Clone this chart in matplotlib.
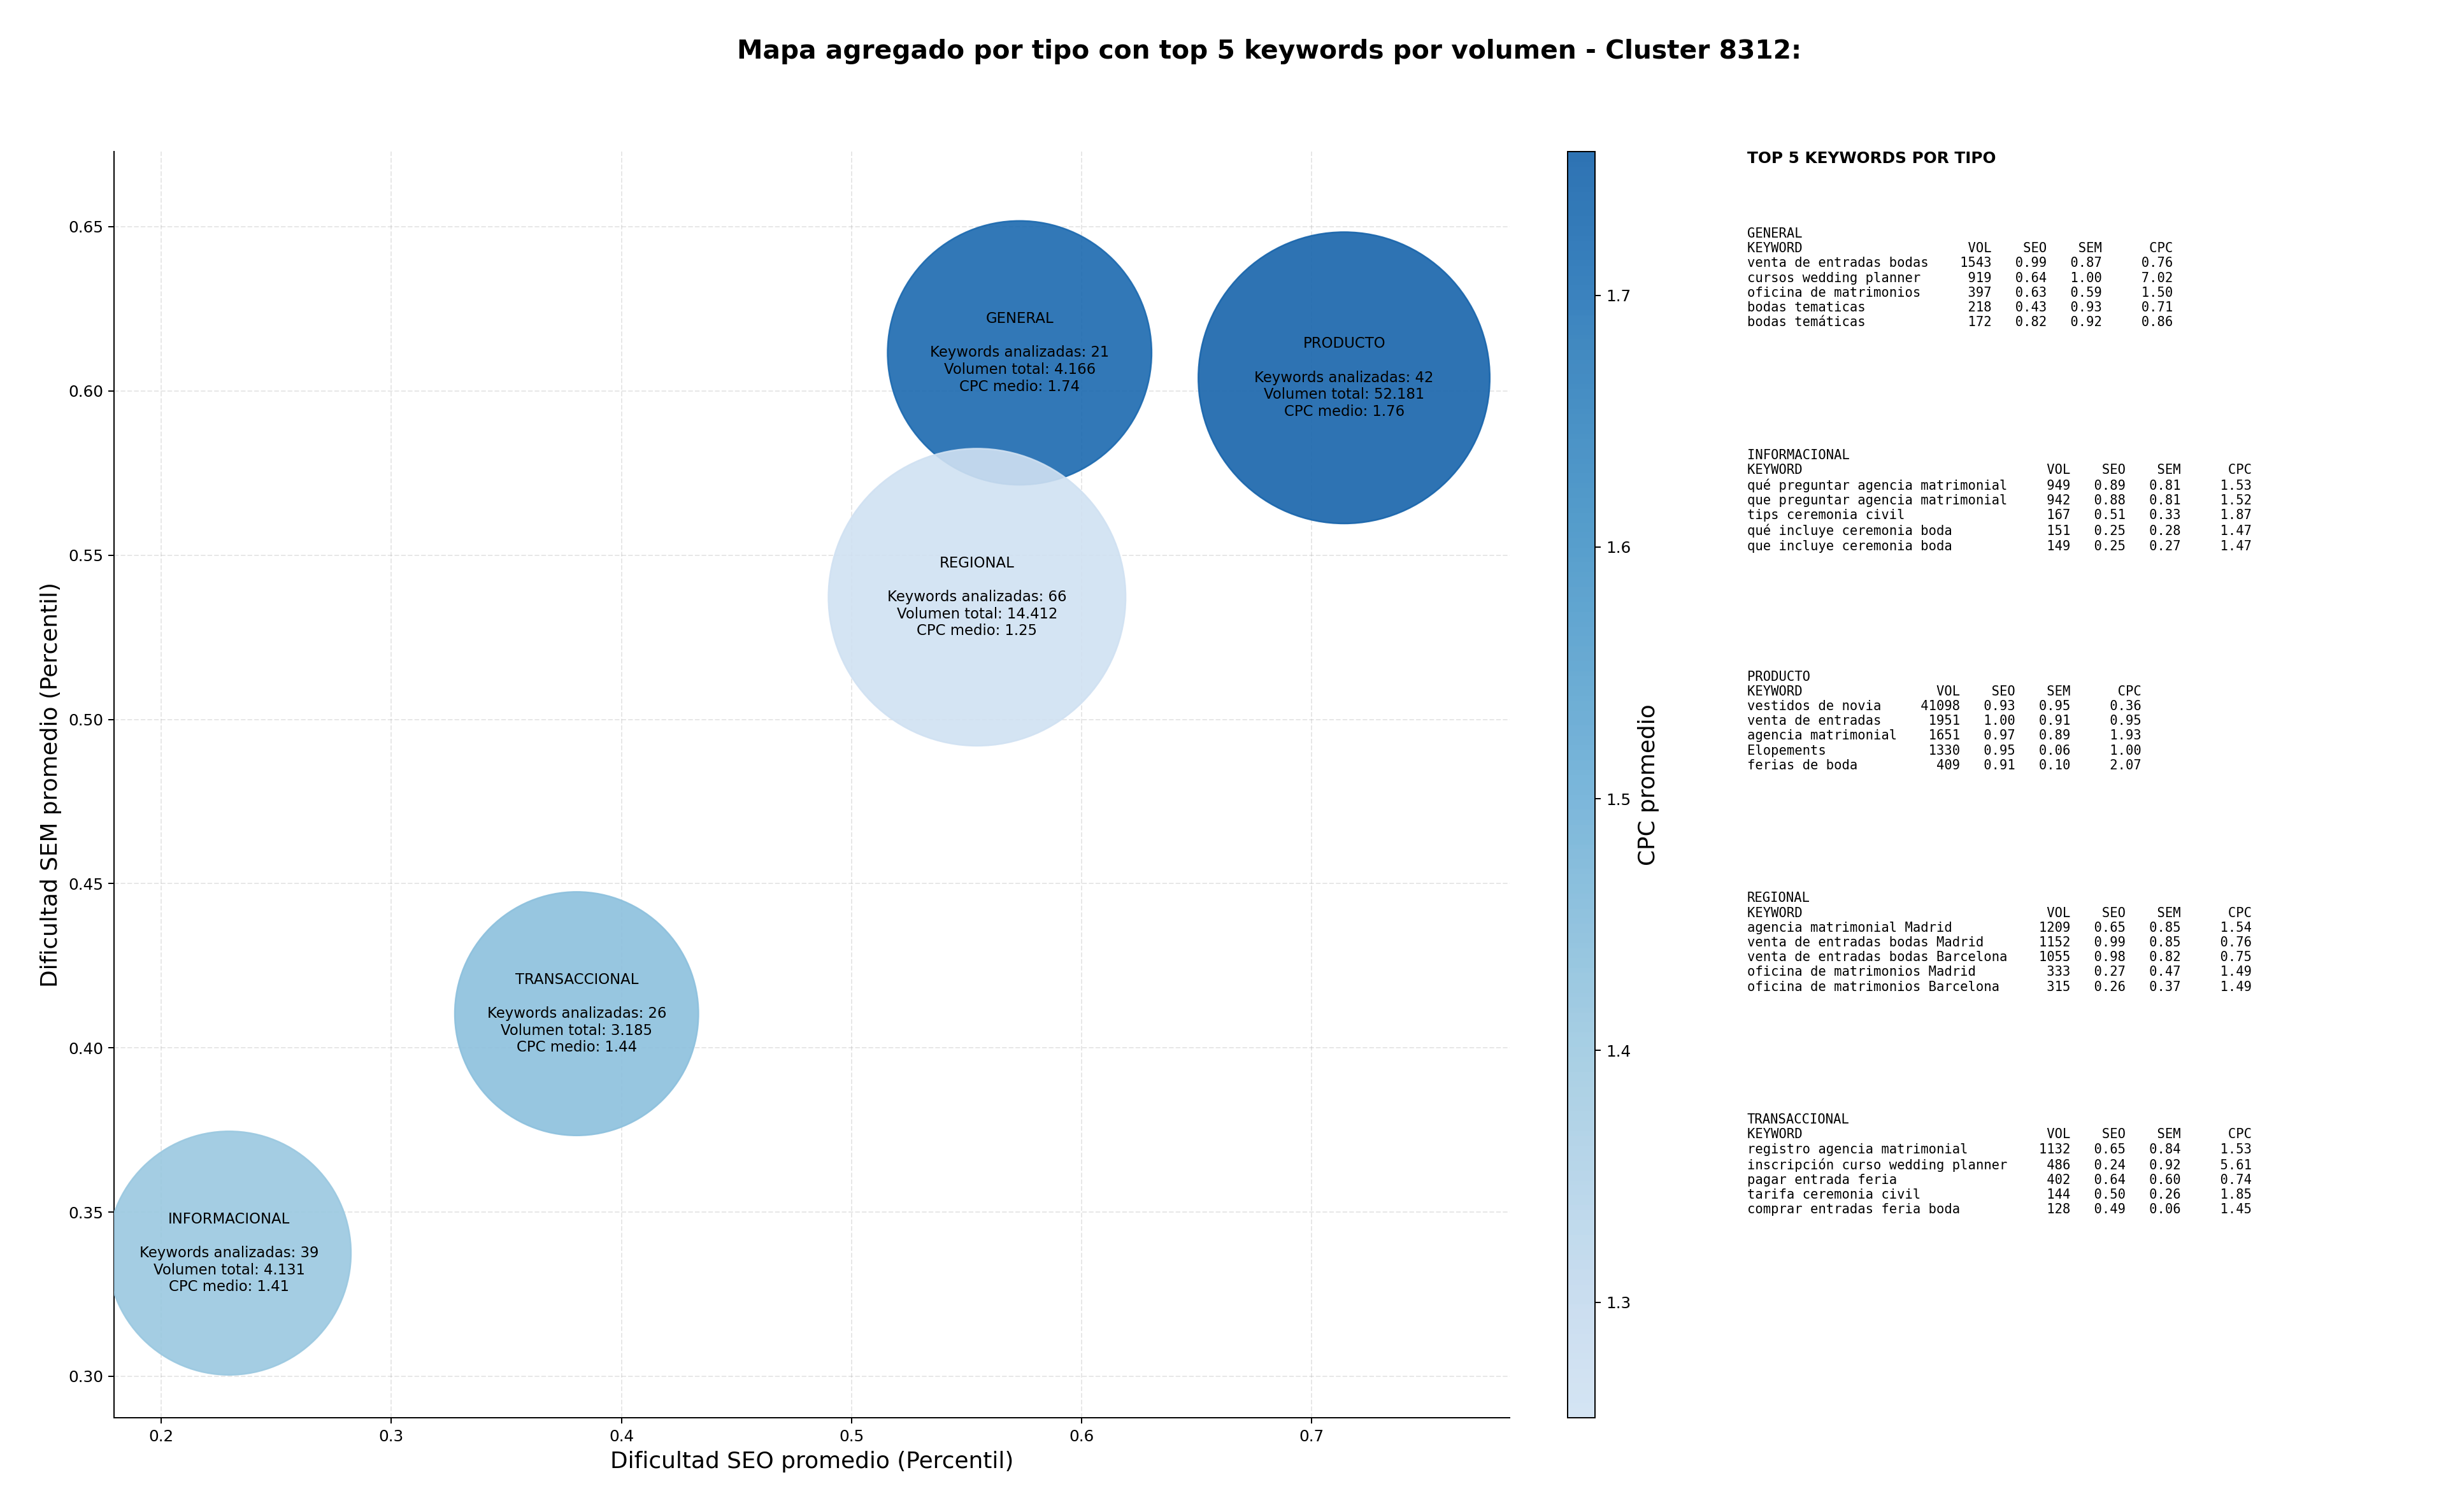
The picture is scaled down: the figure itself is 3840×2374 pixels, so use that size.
import matplotlib
matplotlib.use('Agg')
import matplotlib.pyplot as plt
import numpy as np
from matplotlib.colors import LinearSegmentedColormap

# Aggregated values per keyword type
tipos = ['GENERAL', 'INFORMACIONAL', 'PRODUCTO', 'REGIONAL', 'TRANSACCIONAL']
seo_medio = [0.573, 0.2295, 0.714, 0.5545, 0.3805]
sem_medio = [0.6116, 0.3375, 0.604, 0.5372, 0.4104]
n_keywords = [21, 39, 42, 66, 26]
volumen_total = [4166, 4131, 52181, 14412, 3185]
cpc_medio = [1.74, 1.41, 1.757, 1.254, 1.44]
bubble_area = [28100, 23930, 34250, 35610, 23930]

# Top 5 keywords per type: keyword, volume, SEO, SEM, CPC
top_general = [
    ('venta de entradas bodas', 1543, 0.99, 0.87, 0.76),
    ('cursos wedding planner', 919, 0.64, 1.00, 7.02),
    ('oficina de matrimonios', 397, 0.63, 0.59, 1.50),
    ('bodas tematicas', 218, 0.43, 0.93, 0.71),
    ('bodas temáticas', 172, 0.82, 0.92, 0.86),
]
top_informacional = [
    ('qué preguntar agencia matrimonial', 949, 0.89, 0.81, 1.53),
    ('que preguntar agencia matrimonial', 942, 0.88, 0.81, 1.52),
    ('tips ceremonia civil', 167, 0.51, 0.33, 1.87),
    ('qué incluye ceremonia boda', 151, 0.25, 0.28, 1.47),
    ('que incluye ceremonia boda', 149, 0.25, 0.27, 1.47),
]
top_producto = [
    ('vestidos de novia', 41098, 0.93, 0.95, 0.36),
    ('venta de entradas', 1951, 1.00, 0.91, 0.95),
    ('agencia matrimonial', 1651, 0.97, 0.89, 1.93),
    ('Elopements', 1330, 0.95, 0.06, 1.00),
    ('ferias de boda', 409, 0.91, 0.10, 2.07),
]
top_regional = [
    ('agencia matrimonial Madrid', 1209, 0.65, 0.85, 1.54),
    ('venta de entradas bodas Madrid', 1152, 0.99, 0.85, 0.76),
    ('venta de entradas bodas Barcelona', 1055, 0.98, 0.82, 0.75),
    ('oficina de matrimonios Madrid', 333, 0.27, 0.47, 1.49),
    ('oficina de matrimonios Barcelona', 315, 0.26, 0.37, 1.49),
]
top_transaccional = [
    ('registro agencia matrimonial', 1132, 0.65, 0.84, 1.53),
    ('inscripción curso wedding planner', 486, 0.24, 0.92, 5.61),
    ('pagar entrada feria', 402, 0.64, 0.60, 0.74),
    ('tarifa ceremonia civil', 144, 0.50, 0.26, 1.85),
    ('comprar entradas feria boda', 128, 0.49, 0.06, 1.45),
]
top_por_tipo = [top_general, top_informacional, top_producto, top_regional, top_transaccional]

fig = plt.figure(figsize=(3840 / 178, 2374 / 178), dpi=178)
ax = fig.add_axes([0.04674, 0.06218, 0.5704, 0.8374])
cax = fig.add_axes([0.6409, 0.06218, 0.0112, 0.8374])

cmap = LinearSegmentedColormap.from_list('blues_cut', plt.cm.Blues(np.linspace(0.2, 0.8, 256)))
sc = ax.scatter(seo_medio, sem_medio, s=bubble_area, c=cpc_medio, cmap=cmap,
                vmin=min(cpc_medio), vmax=max(cpc_medio), alpha=0.9, zorder=3)

for tipo, x, y, n, vol, cpc in zip(tipos, seo_medio, sem_medio, n_keywords, volumen_total, cpc_medio):
    vol_txt = '{:,}'.format(vol).replace(',', '.')
    label = '{}\n\nKeywords analizadas: {}\nVolumen total: {}\nCPC medio: {:.2f}'.format(tipo, n, vol_txt, cpc)
    ax.text(x, y, label, ha='center', va='center', fontsize=9.2, zorder=4)

ax.set_xlim(0.1796, 0.7859)
ax.set_ylim(0.2873, 0.6728)
ax.set_xlabel('Dificultad SEO promedio (Percentil)', fontsize=14.5)
ax.set_ylabel('Dificultad SEM promedio (Percentil)', fontsize=14.5)
ax.grid(True, linestyle='--', alpha=0.3)
ax.set_axisbelow(True)
ax.spines['top'].set_visible(False)
ax.spines['right'].set_visible(False)

cbar = fig.colorbar(sc, cax=cax)
cbar.set_label('CPC promedio', fontsize=14.5)

fig.text(0.519, 0.966, 'Mapa agregado por tipo con top 5 keywords por volumen - Cluster 8312:',
         ha='center', va='center', fontsize=16.5, fontweight='bold')

# Right side text panel
fig.text(0.7143, 0.9, 'TOP 5 KEYWORDS POR TIPO', fontsize=10, fontweight='bold', va='top')
for i, (tipo, rows) in enumerate(zip(tipos, top_por_tipo)):
    w = max(len(r[0]) for r in rows)
    lines = [tipo, '{:<{w}}{:>8}{:>7}{:>7}{:>9}'.format('KEYWORD', 'VOL', 'SEO', 'SEM', 'CPC', w=w)]
    for kw, vol, seo, sem, cpc in rows:
        lines.append('{:<{w}}{:>8}{:>7.2f}{:>7.2f}{:>9.2f}'.format(kw, vol, seo, sem, cpc, w=w))
    fig.text(0.7143, 0.8496 - i * 0.1465, '\n'.join(lines), fontsize=8.3, family='monospace', va='top')

fig.savefig('out.png', dpi=178)
